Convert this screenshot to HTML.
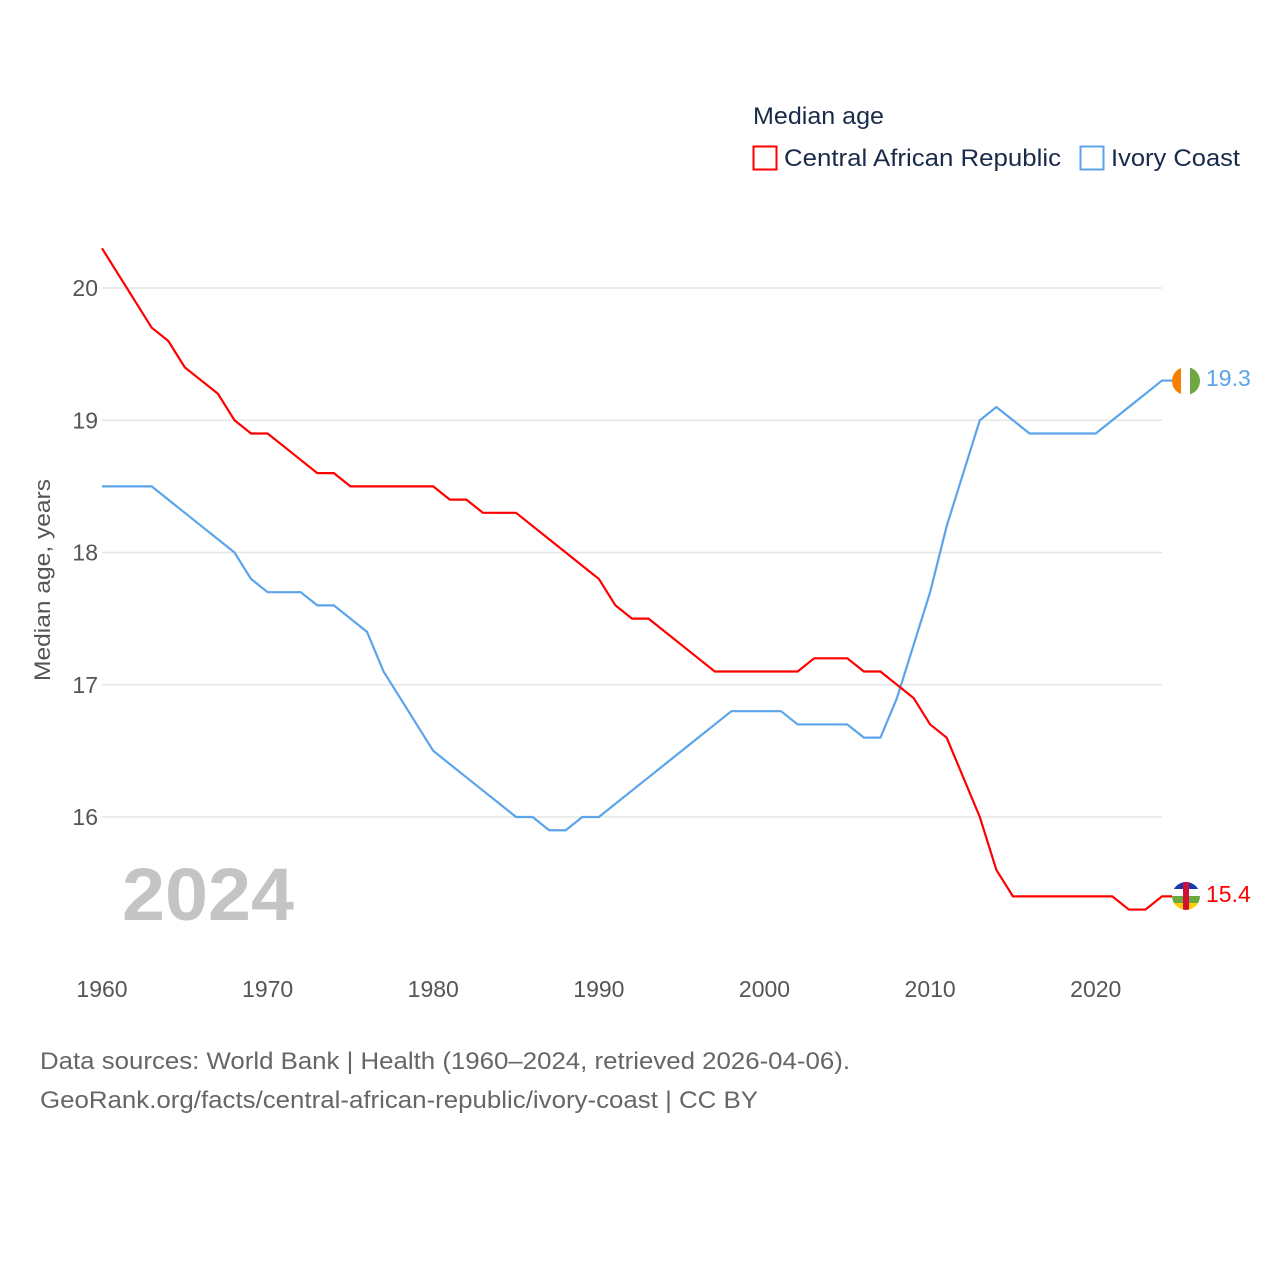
<!DOCTYPE html>
<html><head><meta charset="utf-8"><style>
body{margin:0;background:#fff;font-family:"Liberation Sans",sans-serif}
svg text{font-family:"Liberation Sans",sans-serif}
</style></head><body>
<svg id="chart" width="1280" height="1280" viewBox="0 0 1280 1280" xmlns="http://www.w3.org/2000/svg">
<rect width="1280" height="1280" fill="#fff"/>
<g id="grid"></g>
<g id="ylabels"></g>
<g id="xlabels"></g>
<text transform="translate(50,580) rotate(-90)" text-anchor="middle" font-size="22" fill="#555" textLength="202" lengthAdjust="spacingAndGlyphs">Median age, years</text>
<text x="122" y="920" font-size="74" font-weight="bold" fill="#c4c4c4" textLength="172" lengthAdjust="spacingAndGlyphs">2024</text>
<g id="series"></g>
<g>
<text x="753" y="124" font-size="24" fill="#1a2a4a" textLength="131" lengthAdjust="spacingAndGlyphs">Median age</text>
<rect x="753.5" y="146.5" width="23" height="23" fill="none" stroke="#f00" stroke-width="2"/>
<text x="784" y="166" font-size="24" fill="#1a2a4a" textLength="277" lengthAdjust="spacingAndGlyphs">Central African Republic</text>
<rect x="1080.5" y="146.5" width="23" height="23" fill="none" stroke="#5ba4ec" stroke-width="2"/>
<text x="1111" y="166" font-size="24" fill="#1a2a4a" textLength="129" lengthAdjust="spacingAndGlyphs">Ivory Coast</text>
</g>
<g>
<clipPath id="c1"><circle cx="1186" cy="381" r="14"/></clipPath>
<g clip-path="url(#c1)"><rect x="1172" y="367" width="10" height="28" fill="#f77f00"/><rect x="1181" y="367" width="10" height="28" fill="#fff"/><rect x="1190" y="367" width="10" height="28" fill="#6ea843"/></g>
</g>
<g>
<clipPath id="c2"><circle cx="1186" cy="896" r="14"/></clipPath>
<g clip-path="url(#c2)"><rect x="1172" y="882" width="28" height="7" fill="#1c3aa9"/><rect x="1172" y="889" width="28" height="7" fill="#fff"/><rect x="1172" y="896" width="28" height="7" fill="#6ea843"/><rect x="1172" y="903" width="28" height="7" fill="#ffce00"/><rect x="1183" y="882" width="6" height="28" fill="#d21034"/></g>
</g>
<text x="1206" y="386" font-size="23" fill="#5ba4ec">19.3</text>
<text x="1206" y="902" font-size="23" fill="#f00">15.4</text>
<text x="40" y="1069" font-size="24" fill="#666" textLength="810" lengthAdjust="spacingAndGlyphs">Data sources: World Bank | Health (1960–2024, retrieved 2026-04-06).</text>
<text x="40" y="1108" font-size="24" fill="#666" textLength="718" lengthAdjust="spacingAndGlyphs">GeoRank.org/facts/central-african-republic/ivory-coast | CC BY</text>
</svg>
<script>
const years=[];for(let y=1960;y<=2024;y++)years.push(y);
const carValues=[20.3,20.1,19.9,19.7,19.6,19.4,19.3,19.2,19.0,18.9,18.9,18.8,18.7,18.6,18.6,18.5,18.5,18.5,18.5,18.5,18.5,18.4,18.4,18.3,18.3,18.3,18.2,18.1,18.0,17.9,17.8,17.6,17.5,17.5,17.4,17.3,17.2,17.1,17.1,17.1,17.1,17.1,17.1,17.2,17.2,17.2,17.1,17.1,17.0,16.9,16.7,16.6,16.3,16.0,15.6,15.4,15.4,15.4,15.4,15.4,15.4,15.4,15.3,15.3,15.4];
const civValues=[18.5,18.5,18.5,18.5,18.4,18.3,18.2,18.1,18.0,17.8,17.7,17.7,17.7,17.6,17.6,17.5,17.4,17.1,16.9,16.7,16.5,16.4,16.3,16.2,16.1,16.0,16.0,15.9,15.9,16.0,16.0,16.1,16.2,16.3,16.4,16.5,16.6,16.7,16.8,16.8,16.8,16.8,16.7,16.7,16.7,16.7,16.6,16.6,16.9,17.3,17.7,18.2,18.6,19.0,19.1,19.0,18.9,18.9,18.9,18.9,18.9,19.0,19.1,19.2,19.3];
const yTicks=[16,17,18,19,20];
const xTicks=[1960,1970,1980,1990,2000,2010,2020];
const NS="http://www.w3.org/2000/svg";
const xs=y=>102+(y-1960)*(1162-102)/64;
const ys=v=>288+(20-v)*132.25;
const grid=document.getElementById('grid'),yl=document.getElementById('ylabels'),xl=document.getElementById('xlabels'),ser=document.getElementById('series');
yTicks.forEach(t=>{
 const l=document.createElementNS(NS,'line');
 
 
 l.setAttribute('x1',102);l.setAttribute('x2',1162);l.setAttribute('y1',ys(t));l.setAttribute('y2',ys(t));
 l.setAttribute('stroke','#e6e6e6');l.setAttribute('stroke-width','1.5');grid.appendChild(l);
 const tx=document.createElementNS(NS,'text');
 
 
 tx.setAttribute('x',98);tx.setAttribute('y',ys(t)+8);tx.setAttribute('text-anchor','end');
 tx.setAttribute('font-size','23');tx.setAttribute('fill','#555');tx.textContent=t;yl.appendChild(tx);
});
xTicks.forEach(t=>{
 const tx=document.createElementNS(NS,'text');
 
 
 tx.setAttribute('x',xs(t));tx.setAttribute('y',997);tx.setAttribute('text-anchor','middle');
 tx.setAttribute('font-size','23');tx.setAttribute('fill','#555');tx.textContent=t;xl.appendChild(tx);
});
function line(vals,color,name){
 const p=document.createElementNS(NS,'polyline');
 
 
 p.setAttribute('points',vals.map((v,i)=>xs(years[i])+','+ys(v)).join(' ')+' '+(xs(2024)+10)+','+ys(vals[vals.length-1]));
 p.setAttribute('fill','none');p.setAttribute('stroke',color);p.setAttribute('stroke-width','2.2');
 ser.appendChild(p);
}
line(civValues,'#5ba4ec','ivory-coast-line');
line(carValues,'#f00','car-line');
</script>
</body></html>
